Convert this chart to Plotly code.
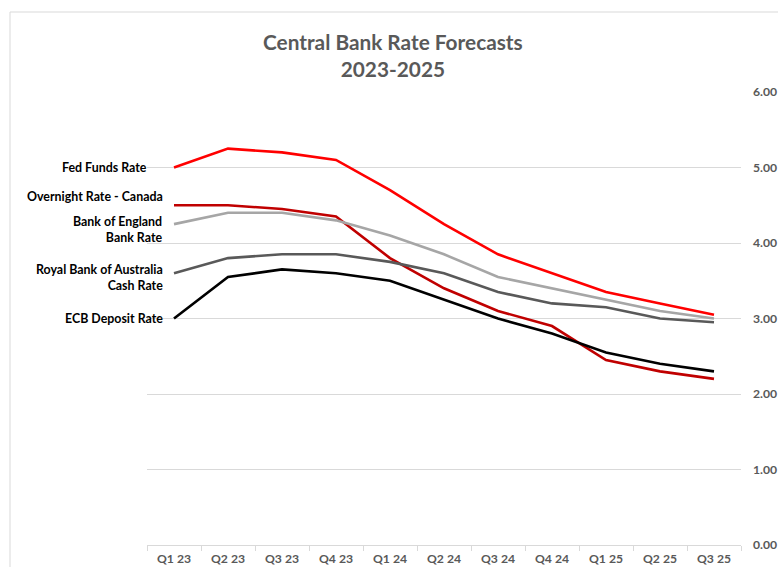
import plotly.graph_objects as go

quarters = ["Q1 23", "Q2 23", "Q3 23", "Q4 23", "Q1 24", "Q2 24", "Q3 24", "Q4 24", "Q1 25", "Q2 25", "Q3 25"]

fed_funds = [5.00, 5.25, 5.20, 5.10, 4.70, 4.25, 3.85, 3.60, 3.35, 3.20, 3.05]
canada_overnight = [4.50, 4.50, 4.45, 4.35, 3.80, 3.40, 3.10, 2.90, 2.45, 2.30, 2.20]
boe_bank_rate = [4.25, 4.40, 4.40, 4.30, 4.10, 3.85, 3.55, 3.40, 3.25, 3.10, 3.00]
rba_cash_rate = [3.60, 3.80, 3.85, 3.85, 3.75, 3.60, 3.35, 3.20, 3.15, 3.00, 2.95]
ecb_deposit = [3.00, 3.55, 3.65, 3.60, 3.50, 3.25, 3.00, 2.80, 2.55, 2.40, 2.30]

y_ticks = [0, 1, 2, 3, 4, 5, 6]

series = [
    ("Fed Funds Rate", fed_funds, "#FF0000", -25, 0),
    ("Overnight Rate - Canada", canada_overnight, "#C00000", -9, 9),
    ("Bank of England<br>Bank Rate", boe_bank_rate, "#A6A6A6", -10, -5),
    ("Royal Bank of Australia<br>Cash Rate", rba_cash_rate, "#595959", -9, -4),
    ("ECB Deposit Rate", ecb_deposit, "#000000", -9, 0),
]

FONT = "Lato"

fig = go.Figure()
annotations = []
for name, vals, color, xs, ys in series:
    fig.add_trace(go.Scatter(
        x=quarters, y=vals, mode="lines", name=name.replace("<br>", " "),
        line=dict(color=color, width=2.6), showlegend=False,
    ))
    annotations.append(dict(
        x=quarters[0], y=vals[0], xref="x", yref="y", text=name,
        showarrow=False, xanchor="right", yanchor="middle", align="right",
        xshift=xs, yshift=ys,
        font=dict(family=FONT, size=12.4, color="#000000", weight="bold"),
    ))

fig.update_layout(
    width=778, height=567,
    margin=dict(l=147, r=37, t=92, b=22),
    paper_bgcolor="white", plot_bgcolor="white",
    title=dict(
        text="<b>Central Bank Rate Forecasts<br>2023-2025</b>",
        x=0.505, xref="container", xanchor="center",
        y=0.912, yanchor="middle", automargin=False,
        font=dict(family=FONT, size=20.8, color="#595959"),
    ),
    annotations=annotations,
    shapes=[dict(
        type="rect", xref="paper", yref="paper",
        x0=(10 - 147) / 594, x1=1.2, y0=-0.2, y1=(545 - 12) / 453,
        line=dict(color="#D9D9D9", width=1), fillcolor="rgba(0,0,0,0)", layer="below",
    )],
    xaxis=dict(
        type="category", range=[-0.5, 10.5], automargin=False,
        showgrid=False, showline=True, linecolor="#D9D9D9", linewidth=1,
        ticks="outside", tickson="boundaries", ticklen=5, tickcolor="#D9D9D9",
        ticklabelstandoff=2,
        tickfont=dict(family=FONT, size=12.2, color="#595959", weight="bold"),
        fixedrange=True,
    ),
    yaxis=dict(
        side="right", range=[0, 6], tickvals=y_ticks, automargin=False,
        ticktext=[f"{v:.2f}" for v in y_ticks],
        showgrid=True, gridcolor="#D9D9D9", gridwidth=1,
        zeroline=False, showline=False, ticks="",
        ticklabelstandoff=11,
        tickfont=dict(family=FONT, size=12.2, color="#595959", weight="bold"),
        fixedrange=True,
    ),
)

fig.write_html("out.html")
